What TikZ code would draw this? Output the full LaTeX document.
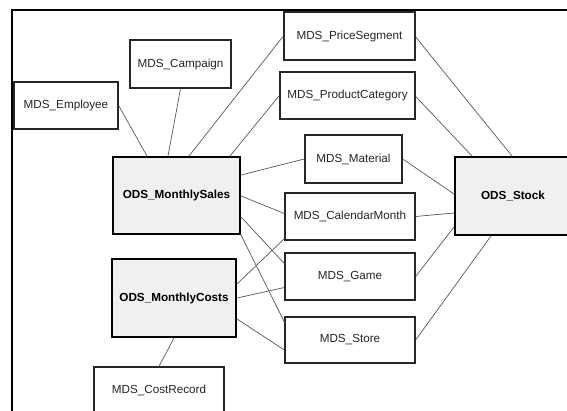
\documentclass[tikz,border=0pt]{standalone}
\usepackage{fontspec}
\setmainfont{Liberation Sans}
\begin{document}
\begin{tikzpicture}[x=1pt,y=-1pt,
  mds/.style={draw=black!85,line width=1.3pt,fill=white,inner sep=0pt,
    font=\fontsize{11.7}{13}\selectfont,text=black!85},
  ods/.style={draw=black,line width=2pt,fill=black!6,inner sep=0pt,
    font=\fontsize{11.7}{13}\selectfont\bfseries},
  link/.style={draw=black!65,line width=0.7pt}]
\useasboundingbox (0,0) rectangle (567,411);
\clip (0,0) rectangle (567,411);
\fill[white] (0,0) rectangle (567,411);
\draw[line width=1.8pt] (570,10) -- (12,10) -- (12,415);
% nodes
\node[mds,minimum width=101,minimum height=48] (camp) at (180.5,64) {MDS\_Campaign};
\node[mds,minimum width=104,minimum height=47] (emp) at (66,105.5) {MDS\_Employee};
\node[ods,minimum width=127,minimum height=77] (ms) at (176.5,195.5) {ODS\_MonthlySales};
\node[mds,minimum width=131,minimum height=48] (price) at (349.5,36) {MDS\_PriceSegment};
\node[mds,minimum width=135,minimum height=47] (prod) at (347.5,95.5) {MDS\_ProductCategory};
\node[mds,minimum width=97,minimum height=48] (mat) at (353.5,159) {MDS\_Material};
\node[mds,minimum width=130,minimum height=47] (cal) at (350,216.5) {MDS\_CalendarMonth};
\node[mds,minimum width=130,minimum height=47] (game) at (350,276.5) {MDS\_Game};
\node[mds,minimum width=130,minimum height=46] (store) at (350,340) {MDS\_Store};
\node[ods,minimum width=116,minimum height=78] (stock) at (513,196) {ODS\_Stock};
\node[ods,minimum width=124,minimum height=78] (mc) at (174,298) {ODS\_MonthlyCosts};
\node[mds,minimum width=130,minimum height=47] (cost) at (159,390.5) {MDS\_CostRecord};
% connectors
\path[link] (emp.east) -- ([xshift=35]ms.north west);
\path[link] (camp.south) -- ([xshift=56]ms.north west);
\path[link] (price.west) -- ([xshift=77]ms.north west);
\path[link] (prod.west) -- ([xshift=118]ms.north west);
\path[link] (mat.west) -- ([yshift=-19]ms.north east);
\path[link] ([yshift=-40]ms.north east) -- ([yshift=3]cal.west);
\path[link] ([yshift=-61]ms.north east) -- ([yshift=13]game.west);
\path[link] (ms.south east) -- ([yshift=18]store.west);
\path[link] ([yshift=-26]mc.north east) -- ([yshift=2]cal.south west);
\path[link] (mc.east) -- ([yshift=-11]game.west);
\path[link] ([yshift=-61]mc.north east) -- ([yshift=-10]store.west);
\path[link] (mc.south) -- (cost.north);
\path[link] ([yshift=-1]price.east) -- ([xshift=58]stock.north west);
\path[link] ([yshift=-1]prod.east) -- ([xshift=18]stock.north west);
\path[link] (mat.east) -- ([yshift=-38]stock.north west);
\path[link] (cal.east) -- ([yshift=-57]stock.north west);
\path[link] (game.east) -- ([yshift=-71]stock.north west);
\path[link] (store.east) -- ([xshift=37]stock.south west);
\end{tikzpicture}
\end{document}
